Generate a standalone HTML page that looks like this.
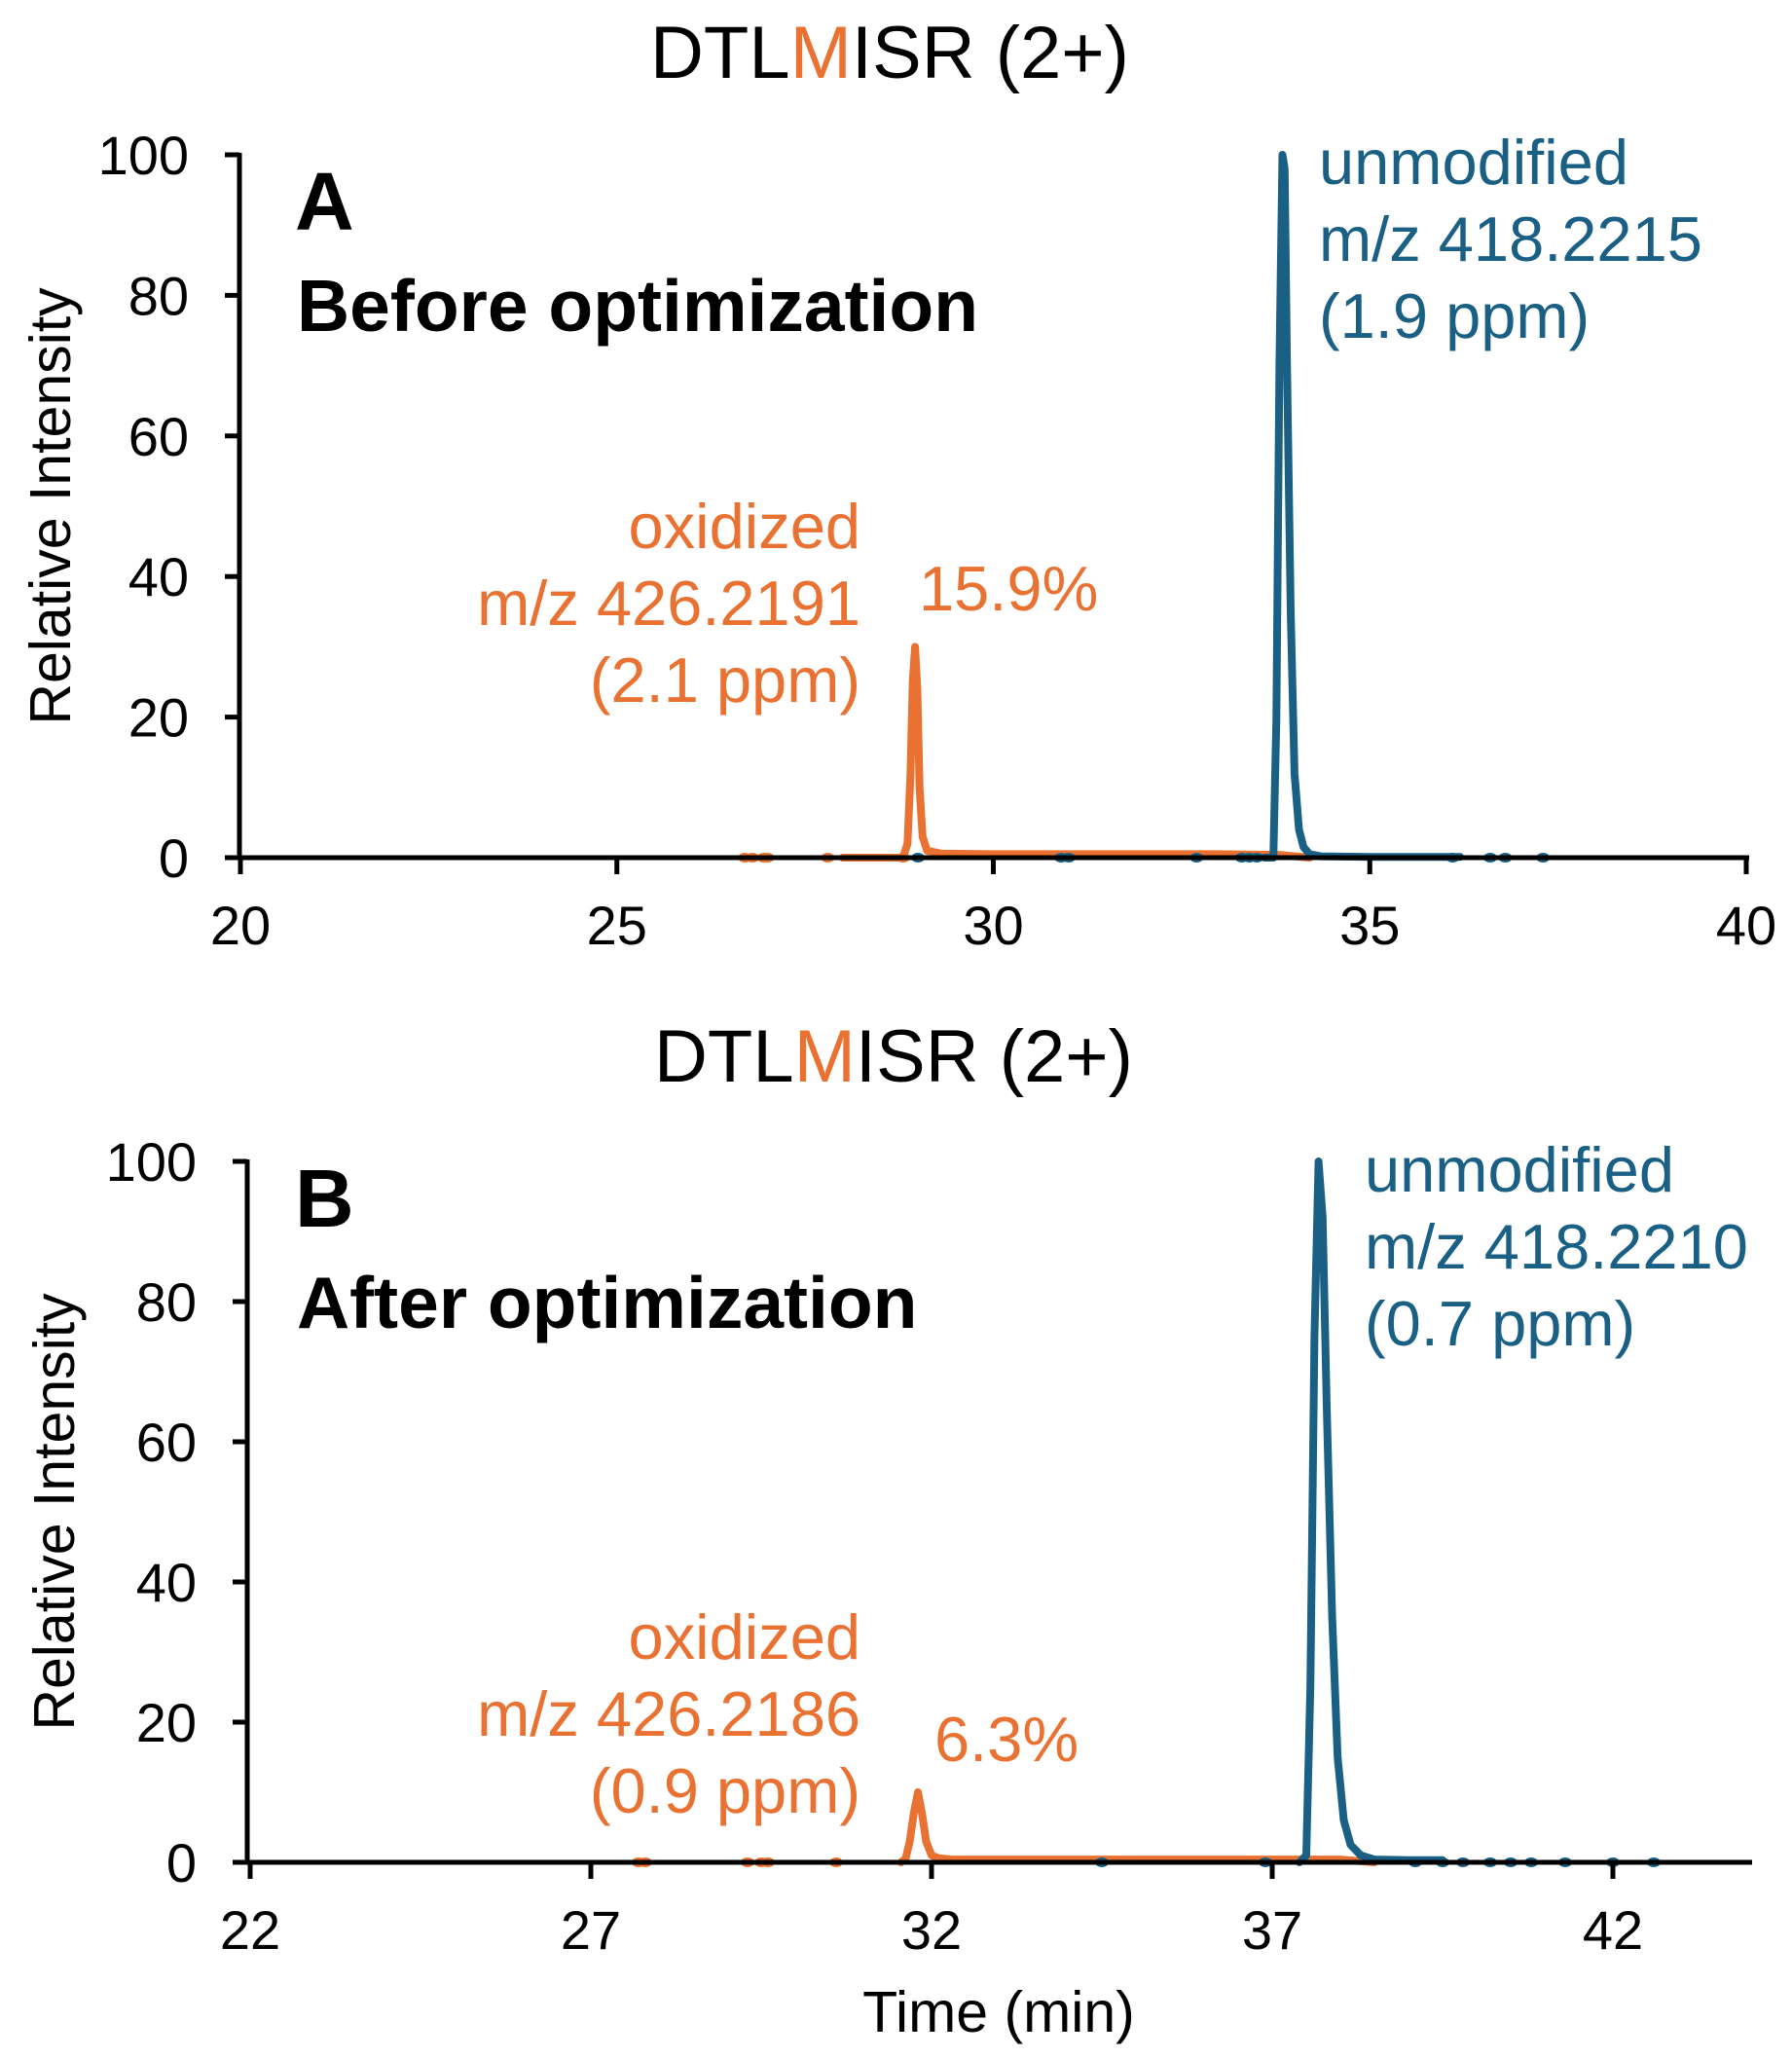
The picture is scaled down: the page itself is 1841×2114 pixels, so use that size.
<!DOCTYPE html>
<html><head><meta charset="utf-8"><style>
html,body{margin:0;padding:0;background:#fff}
svg{display:block}
text{font-family:"Liberation Sans",Arial,sans-serif}
</style></head><body>
<svg id="chart" width="1841" height="2114" viewBox="0 0 1841 2114">
<g id="panelA"></g>
<g id="panelB"></g>
</svg>
<script>
const ORANGE = '#E97132', BLUE = '#1A6085';
// Panel A data
const aXTicks = [20, 25, 30, 35, 40];
const aYTicks = [0, 20, 40, 60, 80, 100];
const aOxTime = [28.0, 28.80, 28.86, 28.90, 28.93, 28.96, 28.99, 29.02, 29.06, 29.12, 29.3, 30, 31, 32, 33, 33.8, 34.2];
const aOxInt  = [0, 0, 2, 12, 25, 30, 24, 10, 3, 1, 0.6, 0.5, 0.5, 0.5, 0.5, 0.4, 0];
const aOxDots = [26.7, 26.8, 26.95, 27.0, 27.8, 28.8];
const aUnTime = [33.6, 33.72, 33.76, 33.80, 33.84, 33.87, 33.90, 33.95, 34.0, 34.06, 34.12, 34.2, 34.35, 35, 36, 36.2];
const aUnInt  = [0, 0, 20, 70, 100, 98, 70, 35, 12, 4, 1.5, 0.5, 0.2, 0.1, 0.1, 0.1];
const aUnDots = [29.0, 30.9, 31.0, 32.7, 33.3, 33.4, 33.5, 36.1, 36.6, 36.8, 37.3];
// Panel B data
const bXTicks = [22, 27, 32, 37, 42];
const bYTicks = [0, 20, 40, 60, 80, 100];
const bOxTime = [31.55, 31.62, 31.68, 31.74, 31.80, 31.86, 31.92, 32.0, 32.1, 32.3, 33, 34, 35, 36, 37, 38, 38.5];
const bOxInt  = [0, 0.5, 3, 7, 10, 7, 3, 1, 0.6, 0.4, 0.4, 0.4, 0.4, 0.4, 0.4, 0.4, 0];
const bOxDots = [27.7, 27.8, 29.3, 29.5, 29.6, 30.6];
const bUnTime = [37.4, 37.5, 37.56, 37.62, 37.68, 37.74, 37.8, 37.88, 37.96, 38.05, 38.15, 38.3, 38.5, 39, 39.5];
const bUnInt  = [0, 1, 25, 75, 100, 92, 65, 35, 15, 6, 2.5, 1, 0.4, 0.3, 0.3];
const bUnDots = [34.5, 36.9, 39.1, 39.5, 39.8, 40.2, 40.5, 40.8, 41.3, 42.0, 42.6];

const NS = 'http://www.w3.org/2000/svg';
function mk(parent, tag, attrs, txt){
  const e = document.createElementNS(NS, tag);
  for (const k in attrs) e.setAttribute(k, attrs[k]);
  if (txt !== undefined) e.textContent = txt;
  parent.appendChild(e);
  return e;
}
function panel(g, cfg){
  const xs = v => cfg.x0 + (v - cfg.xmin) / (cfg.xmax - cfg.xmin) * (cfg.x1 - cfg.x0);
  const ys = v => cfg.y0 - v / 100 * (cfg.y0 - cfg.y1);
  const t = mk(g, 'text', {x: cfg.titleX, y: cfg.titleY, 'text-anchor': 'middle', 'font-size': 76, fill: '#000'});
  
  
  mk(t, 'tspan', {}, 'DTL');
  mk(t, 'tspan', {fill: ORANGE}, 'M');
  mk(t, 'tspan', {}, 'ISR (2+)');
  function line(times, vals, color, name){
    let d = '';
    times.forEach((tm, i) => { d += (i ? 'L' : 'M') + xs(tm).toFixed(1) + ' ' + ys(vals[i]).toFixed(1); });
    const p = mk(g, 'path', {d: d, fill: 'none', stroke: color, 'stroke-width': 8, 'stroke-linejoin': 'round', 'stroke-linecap': 'round'});
    
    
  }
  function dots(times, color, name){
    times.forEach(tm => {
      const c = mk(g, 'ellipse', {cx: xs(tm), cy: ys(0), rx: 7, ry: 5, fill: color});
      
      
    });
  }
  line(cfg.oxT, cfg.oxI, ORANGE, 'oxidized-trace');
  dots(cfg.oxD, ORANGE, 'oxidized-point');
  line(cfg.unT, cfg.unI, BLUE, 'unmodified-trace');
  dots(cfg.unD, BLUE, 'unmodified-point');
  const xa = mk(g, 'line', {x1: cfg.yAxX - 15, x2: cfg.axEnd, y1: cfg.y0, y2: cfg.y0, stroke: '#000', 'stroke-width': 5});
  
  
  const ya = mk(g, 'line', {x1: cfg.yAxX, x2: cfg.yAxX, y1: cfg.y1 - 2, y2: cfg.y0 + 2, stroke: '#000', 'stroke-width': 5});
  
  
  cfg.xt.forEach(v => {
    const tk = mk(g, 'line', {x1: xs(v), x2: xs(v), y1: cfg.y0, y2: cfg.y0 + 17, stroke: '#000', 'stroke-width': 5});
    
    
    const lb = mk(g, 'text', {x: xs(v), y: cfg.y0 + 89, 'text-anchor': 'middle', 'font-size': 56}, String(v));
    
    
  });
  cfg.yt.forEach(v => {
    const tk = mk(g, 'line', {x1: cfg.yAxX - 15, x2: cfg.yAxX, y1: ys(v), y2: ys(v), stroke: '#000', 'stroke-width': 5});
    
    
    const lb = mk(g, 'text', {x: cfg.yAxX - 52, y: ys(v) + 20, 'text-anchor': 'end', 'font-size': 56}, String(v));
    
    
  });
  const yt = mk(g, 'text', {x: 0, y: 0, 'text-anchor': 'middle', 'font-size': 59, transform: `translate(${cfg.yLabX},${(cfg.y0 + cfg.y1) / 2}) rotate(-90)`}, 'Relative Intensity');
  
  
  const L = mk(g, 'text', {x: 303, y: cfg.letterY, 'font-size': 84, 'font-weight': 'bold'}, cfg.letter);
  
  
  const S = mk(g, 'text', {x: 305, y: cfg.subY, 'font-size': 75, 'font-weight': 'bold'}, cfg.sub);
  
  
  cfg.unLines.forEach((s, i) => {
    const e = mk(g, 'text', {x: cfg.unX, y: cfg.unY + i * 79, 'font-size': 65, fill: BLUE}, s);
    
    
  });
  cfg.oxLines.forEach((s, i) => {
    const e = mk(g, 'text', {x: 884, y: cfg.oxY + i * 79, 'font-size': 65, fill: ORANGE, 'text-anchor': 'end'}, s);
    
    
  });
  const pc = mk(g, 'text', {x: cfg.pctX, y: cfg.pctY, 'font-size': 65, fill: ORANGE}, cfg.pct);
  
  
}
panel(document.getElementById('panelA'), {
  xmin: 20, xmax: 40, x0: 247, x1: 1794, axEnd: 1797, yAxX: 246, y0: 881, y1: 159,
  titleX: 914, titleY: 80, yLabX: 72, xt: aXTicks, yt: aYTicks,
  oxT: aOxTime, oxI: aOxInt, oxD: aOxDots, unT: aUnTime, unI: aUnInt, unD: aUnDots,
  letter: 'A', letterY: 236, sub: 'Before optimization', subY: 340,
  unX: 1355, unY: 189, unLines: ['unmodified', 'm/z 418.2215', '(1.9 ppm)'],
  oxY: 563, oxLines: ['oxidized', 'm/z 426.2191', '(2.1 ppm)'],
  pct: '15.9%', pctX: 944, pctY: 627
});
panel(document.getElementById('panelB'), {
  xmin: 22, xmax: 42, x0: 257, x1: 1657, axEnd: 1800, yAxX: 254, y0: 1913, y1: 1193,
  titleX: 918, titleY: 1111, yLabX: 76, xt: bXTicks, yt: bYTicks,
  oxT: bOxTime, oxI: bOxInt, oxD: bOxDots, unT: bUnTime, unI: bUnInt, unD: bUnDots,
  letter: 'B', letterY: 1260, sub: 'After optimization', subY: 1364,
  unX: 1402, unY: 1224, unLines: ['unmodified', 'm/z 418.2210', '(0.7 ppm)'],
  oxY: 1704, oxLines: ['oxidized', 'm/z 426.2186', '(0.9 ppm)'],
  pct: '6.3%', pctX: 960, pctY: 1809
});
const xt = document.createElementNS(NS, 'text');
xt.setAttribute('x', 1026); xt.setAttribute('y', 2087);
xt.setAttribute('text-anchor', 'middle'); xt.setAttribute('font-size', 59);
xt.textContent = 'Time (min)';


document.getElementById('panelB').appendChild(xt);
</script>
</body></html>
